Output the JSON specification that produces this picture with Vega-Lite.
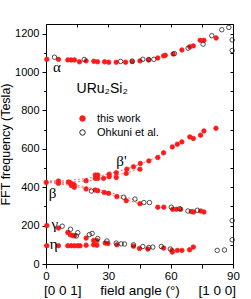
{
  "$schema": "https://vega.github.io/schema/vega-lite/v6.json",
  "width": 187,
  "height": 240,
  "autosize": {"type": "none"},
  "padding": {"left": 46, "top": 24, "right": 18, "bottom": 35},
  "config": {
    "font": "Liberation Sans",
    "view": {"stroke": null},
    "axis": {"grid": false, "domainColor": "#000", "tickColor": "#000", "labelColor": "#000", "titleColor": "#000", "titleFontWeight": "normal", "domainWidth": 1, "tickWidth": 1}
  },
  "datasets": {
    "pts": [
      {"angle": 0.4, "freq": 1066, "src": "this work"},
      {"angle": 6, "freq": 1066, "src": "this work"},
      {"angle": 10.5, "freq": 1063, "src": "this work"},
      {"angle": 12.1, "freq": 1063, "src": "this work"},
      {"angle": 13.7, "freq": 1063, "src": "this work"},
      {"angle": 16.1, "freq": 1053, "src": "this work"},
      {"angle": 19.3, "freq": 1058, "src": "this work"},
      {"angle": 23, "freq": 1056, "src": "this work"},
      {"angle": 24.8, "freq": 1053, "src": "this work"},
      {"angle": 28.2, "freq": 1053, "src": "this work"},
      {"angle": 30.2, "freq": 1051, "src": "this work"},
      {"angle": 33.8, "freq": 1051, "src": "this work"},
      {"angle": 38.3, "freq": 1051, "src": "this work"},
      {"angle": 41.5, "freq": 1054, "src": "this work"},
      {"angle": 45.2, "freq": 1058, "src": "this work"},
      {"angle": 49.4, "freq": 1063, "src": "this work"},
      {"angle": 53.8, "freq": 1073, "src": "this work"},
      {"angle": 56.6, "freq": 1084, "src": "this work"},
      {"angle": 57.4, "freq": 1087, "src": "this work"},
      {"angle": 61.2, "freq": 1094, "src": "this work"},
      {"angle": 65.4, "freq": 1115, "src": "this work"},
      {"angle": 69.2, "freq": 1131, "src": "this work"},
      {"angle": 70.9, "freq": 1136, "src": "this work"},
      {"angle": 74.2, "freq": 1165, "src": "this work"},
      {"angle": 76, "freq": 1165, "src": "this work"},
      {"angle": 81.9, "freq": 1177, "src": "this work"},

      {"angle": 0.1, "freq": 425, "src": "this work"},
      {"angle": 6, "freq": 432, "src": "this work"},
      {"angle": 6, "freq": 420, "src": "this work"},
      {"angle": 10.8, "freq": 427, "src": "this work"},
      {"angle": 11.7, "freq": 421, "src": "this work"},
      {"angle": 12.6, "freq": 417, "src": "this work"},
      {"angle": 13.6, "freq": 412, "src": "this work"},
      {"angle": 12.2, "freq": 409, "src": "this work"},
      {"angle": 19.3, "freq": 434, "src": "this work"},
      {"angle": 23.7, "freq": 463, "src": "this work"},
      {"angle": 24.9, "freq": 463, "src": "this work"},
      {"angle": 23.7, "freq": 446, "src": "this work"},
      {"angle": 24.9, "freq": 446, "src": "this work"},
      {"angle": 27.7, "freq": 446, "src": "this work"},
      {"angle": 30.4, "freq": 468, "src": "this work"},
      {"angle": 30.4, "freq": 455, "src": "this work"},
      {"angle": 33.8, "freq": 475, "src": "this work"},
      {"angle": 33.8, "freq": 451, "src": "this work"},
      {"angle": 38.6, "freq": 472, "src": "this work"},
      {"angle": 38.9, "freq": 494, "src": "this work"},
      {"angle": 42.1, "freq": 506, "src": "this work"},
      {"angle": 45.2, "freq": 494, "src": "this work"},
      {"angle": 45.4, "freq": 524, "src": "this work"},
      {"angle": 49.5, "freq": 537, "src": "this work"},
      {"angle": 53.8, "freq": 555, "src": "this work"},
      {"angle": 56.6, "freq": 579, "src": "this work"},
      {"angle": 60.8, "freq": 610, "src": "this work"},
      {"angle": 63.2, "freq": 624, "src": "this work"},
      {"angle": 65.4, "freq": 636, "src": "this work"},
      {"angle": 69.2, "freq": 662, "src": "this work"},
      {"angle": 70.9, "freq": 654, "src": "this work"},
      {"angle": 74.4, "freq": 671, "src": "this work"},
      {"angle": 76, "freq": 693, "src": "this work"},
      {"angle": 81.8, "freq": 707, "src": "this work"},

      {"angle": 13.6, "freq": 400, "src": "this work"},
      {"angle": 19.3, "freq": 391, "src": "this work"},
      {"angle": 23.7, "freq": 385, "src": "this work"},
      {"angle": 24.9, "freq": 382, "src": "this work"},
      {"angle": 28, "freq": 373, "src": "this work"},
      {"angle": 30.1, "freq": 368, "src": "this work"},
      {"angle": 34.1, "freq": 351, "src": "this work"},
      {"angle": 38.6, "freq": 330, "src": "this work"},
      {"angle": 45.2, "freq": 314, "src": "this work"},
      {"angle": 53.8, "freq": 296, "src": "this work"},
      {"angle": 56.7, "freq": 296, "src": "this work"},
      {"angle": 61, "freq": 285, "src": "this work"},
      {"angle": 62.7, "freq": 285, "src": "this work"},
      {"angle": 64.8, "freq": 285, "src": "this work"},
      {"angle": 69.9, "freq": 273, "src": "this work"},
      {"angle": 71, "freq": 271, "src": "this work"},
      {"angle": 74.4, "freq": 276, "src": "this work"},
      {"angle": 76, "freq": 271, "src": "this work"},

      {"angle": 0.4, "freq": 200, "src": "this work"},
      {"angle": 6, "freq": 187, "src": "this work"},
      {"angle": 10.5, "freq": 164, "src": "this work"},
      {"angle": 11.7, "freq": 152, "src": "this work"},
      {"angle": 12.9, "freq": 148, "src": "this work"},
      {"angle": 13.7, "freq": 147, "src": "this work"},
      {"angle": 19.3, "freq": 135, "src": "this work"},
      {"angle": 22.9, "freq": 122, "src": "this work"},
      {"angle": 24.5, "freq": 122, "src": "this work"},
      {"angle": 28.5, "freq": 109, "src": "this work"},
      {"angle": 29.8, "freq": 107, "src": "this work"},
      {"angle": 34.1, "freq": 100, "src": "this work"},
      {"angle": 42.1, "freq": 93, "src": "this work"},
      {"angle": 45, "freq": 81, "src": "this work"},
      {"angle": 49, "freq": 78, "src": "this work"},
      {"angle": 56.6, "freq": 83, "src": "this work"},
      {"angle": 60.6, "freq": 71, "src": "this work"},
      {"angle": 60.8, "freq": 62, "src": "this work"},
      {"angle": 63.2, "freq": 71, "src": "this work"},
      {"angle": 65.4, "freq": 71, "src": "this work"},
      {"angle": 69.1, "freq": 74, "src": "this work"},
      {"angle": 70.9, "freq": 88, "src": "this work"},

      {"angle": 0.4, "freq": 95, "src": "this work"},
      {"angle": 6, "freq": 95, "src": "this work"},
      {"angle": 10.5, "freq": 95, "src": "this work"},
      {"angle": 12.1, "freq": 95, "src": "this work"},
      {"angle": 13.7, "freq": 95, "src": "this work"},
      {"angle": 15.3, "freq": 95, "src": "this work"},
      {"angle": 16.4, "freq": 95, "src": "this work"},
      {"angle": 19.3, "freq": 98, "src": "this work"},
      {"angle": 22.9, "freq": 100, "src": "this work"},
      {"angle": 24.5, "freq": 98, "src": "this work"},

      {"angle": 4.1, "freq": 1077, "src": "Ohkuni et al."},
      {"angle": 18.4, "freq": 1065, "src": "Ohkuni et al."},
      {"angle": 35.9, "freq": 1055, "src": "Ohkuni et al."},
      {"angle": 41.5, "freq": 1057, "src": "Ohkuni et al."},
      {"angle": 46.6, "freq": 1066, "src": "Ohkuni et al."},
      {"angle": 49.4, "freq": 1065, "src": "Ohkuni et al."},
      {"angle": 51.9, "freq": 1066, "src": "Ohkuni et al."},
      {"angle": 61.8, "freq": 1096, "src": "Ohkuni et al."},
      {"angle": 68.4, "freq": 1124, "src": "Ohkuni et al."},
      {"angle": 75.6, "freq": 1145, "src": "Ohkuni et al."},
      {"angle": 79.8, "freq": 1189, "src": "Ohkuni et al."},
      {"angle": 84.6, "freq": 1220, "src": "Ohkuni et al."},
      {"angle": 88, "freq": 1232, "src": "Ohkuni et al."},
      {"angle": 89.6, "freq": 1167, "src": "Ohkuni et al."},
      {"angle": 89.6, "freq": 1112, "src": "Ohkuni et al."},

      {"angle": 21.8, "freq": 380, "src": "Ohkuni et al."},
      {"angle": 37.4, "freq": 348, "src": "Ohkuni et al."},
      {"angle": 42.8, "freq": 338, "src": "Ohkuni et al."},
      {"angle": 47.1, "freq": 320, "src": "Ohkuni et al."},
      {"angle": 49.8, "freq": 320, "src": "Ohkuni et al."},
      {"angle": 60.3, "freq": 296, "src": "Ohkuni et al."},
      {"angle": 64.3, "freq": 288, "src": "Ohkuni et al."},
      {"angle": 68.3, "freq": 276, "src": "Ohkuni et al."},
      {"angle": 72.8, "freq": 280, "src": "Ohkuni et al."},
      {"angle": 89.6, "freq": 226, "src": "Ohkuni et al."},
      {"angle": 89.6, "freq": 126, "src": "Ohkuni et al."},

      {"angle": 7.8, "freq": 197, "src": "Ohkuni et al."},
      {"angle": 11.8, "freq": 181, "src": "Ohkuni et al."},
      {"angle": 15.3, "freq": 163, "src": "Ohkuni et al."},
      {"angle": 14.6, "freq": 146, "src": "Ohkuni et al."},
      {"angle": 20.9, "freq": 153, "src": "Ohkuni et al."},
      {"angle": 22.2, "freq": 159, "src": "Ohkuni et al."},
      {"angle": 24.9, "freq": 133, "src": "Ohkuni et al."},
      {"angle": 29.3, "freq": 120, "src": "Ohkuni et al."},
      {"angle": 33.8, "freq": 109, "src": "Ohkuni et al."},
      {"angle": 36.2, "freq": 105, "src": "Ohkuni et al."},
      {"angle": 37.8, "freq": 104, "src": "Ohkuni et al."},
      {"angle": 42.1, "freq": 100, "src": "Ohkuni et al."},
      {"angle": 46.6, "freq": 91, "src": "Ohkuni et al."},
      {"angle": 49.5, "freq": 86, "src": "Ohkuni et al."},
      {"angle": 51.4, "freq": 88, "src": "Ohkuni et al."},
      {"angle": 55.5, "freq": 91, "src": "Ohkuni et al."},
      {"angle": 59.8, "freq": 78, "src": "Ohkuni et al."},
      {"angle": 82.4, "freq": 71, "src": "Ohkuni et al."},
      {"angle": 85.9, "freq": 73, "src": "Ohkuni et al."}
    ],
    "fits": [
      {"curve": "a", "angle": 0, "freq": 433},
      {"curve": "a", "angle": 10, "freq": 433},
      {"curve": "a", "angle": 20, "freq": 447},
      {"curve": "a", "angle": 30, "freq": 468},
      {"curve": "a", "angle": 40, "freq": 499},
      {"curve": "a", "angle": 50, "freq": 540},
      {"curve": "a", "angle": 57, "freq": 580},
      {"curve": "b", "angle": 0, "freq": 429},
      {"curve": "b", "angle": 10, "freq": 425},
      {"curve": "b", "angle": 20, "freq": 433},
      {"curve": "b", "angle": 30, "freq": 452},
      {"curve": "b", "angle": 40, "freq": 478},
      {"curve": "b", "angle": 45, "freq": 494},
      {"curve": "c", "angle": 0, "freq": 431},
      {"curve": "c", "angle": 10, "freq": 419},
      {"curve": "c", "angle": 20, "freq": 400},
      {"curve": "c", "angle": 30, "freq": 375},
      {"curve": "c", "angle": 40, "freq": 343},
      {"curve": "c", "angle": 45, "freq": 325},
      {"curve": "d", "angle": 0, "freq": 427},
      {"curve": "d", "angle": 10, "freq": 412},
      {"curve": "d", "angle": 20, "freq": 391},
      {"curve": "d", "angle": 30, "freq": 364},
      {"curve": "d", "angle": 40, "freq": 330},
      {"curve": "d", "angle": 45, "freq": 314}
    ],
    "labels": [
      {"angle": 5.2, "freq": 1025, "text": "α"},
      {"angle": 3.1, "freq": 370, "text": "β"},
      {"angle": 36.3, "freq": 537, "text": "β'"},
      {"angle": 4.2, "freq": 209, "text": "γ"},
      {"angle": 3.75, "freq": 104, "text": "η"}
    ],
    "title": [
      {"angle": 14.7, "freq": 914, "text": "URu₂Si₂"}
    ]
  },
  "resolve": {"axis": {"x": "independent", "y": "independent"}},
  "layer": [
    {
      "data": {"name": "fits"},
      "mark": {"type": "line", "color": "#ff6a6a", "strokeWidth": 1, "strokeDash": [2, 2]},
      "encoding": {
        "x": {"field": "angle", "type": "quantitative", "scale": {"domain": [0, 90], "nice": false, "zero": false},
          "axis": {"orient": "bottom", "values": [0, 15, 30, 45, 60, 75, 90], "labelExpr": "datum.value % 30 == 0 ? datum.label : ''", "tickSize": 4, "labelPadding": 2, "labelFontSize": 11.5, "labelFlush": false,
            "title": "[0 0 1]\u00a0\u00a0\u00a0\u00a0\u00a0field angle (°)\u00a0\u00a0\u00a0\u00a0\u00a0[1 0 0]", "titleFontSize": 13.5, "titlePadding": 2}},
        "y": {"field": "freq", "type": "quantitative", "scale": {"domain": [0, 1250], "nice": false},
          "axis": {"orient": "left", "values": [0, 100, 200, 300, 400, 500, 600, 700, 800, 900, 1000, 1100, 1200], "labelExpr": "datum.value % 200 == 0 ? datum.label : ''", "format": "d",
            "tickSize": {"condition": {"test": "datum.value % 200 == 0", "value": 4}, "value": 2.5}, "labelPadding": 3, "labelFontSize": 11, "labelFlush": false,
            "title": "FFT frequency (Tesla)", "titleFontSize": 12.5, "titlePadding": 2}},
        "detail": {"field": "curve"}
      }
    },
    {
      "data": {"name": "pts"},
      "mark": {"type": "point", "shape": "circle", "size": 20, "strokeWidth": 0.8, "opacity": 1},
      "encoding": {
        "x": {"field": "angle", "type": "quantitative", "scale": {"domain": [0, 90], "nice": false, "zero": false},
          "axis": {"orient": "top", "values": [0, 15, 30, 45, 60, 75, 90], "labels": false, "tickSize": -3, "title": null}},
        "y": {"field": "freq", "type": "quantitative", "scale": {"domain": [0, 1250], "nice": false},
          "axis": {"orient": "right", "values": [0, 100, 200, 300, 400, 500, 600, 700, 800, 900, 1000, 1100, 1200], "labels": false, "tickSize": -3, "title": null}},
        "fill": {"field": "src", "type": "nominal", "scale": {"domain": ["this work", "Ohkuni et al."], "range": ["#ff1a1a", "transparent"]},
          "legend": {"orient": "none", "legendX": 31, "legendY": 89, "title": null, "labelFontSize": 11, "symbolSize": 30, "symbolStrokeWidth": 1, "rowPadding": 2, "labelOffset": 9}},
        "stroke": {"field": "src", "type": "nominal", "scale": {"domain": ["this work", "Ohkuni et al."], "range": ["#ff1a1a", "#222222"]}}
      }
    },
    {
      "data": {"name": "labels"},
      "mark": {"type": "text", "font": "Liberation Serif", "fontSize": 15, "align": "center", "baseline": "middle", "color": "#000"},
      "encoding": {
        "x": {"field": "angle", "type": "quantitative", "scale": {"domain": [0, 90], "nice": false, "zero": false}, "axis": null},
        "y": {"field": "freq", "type": "quantitative", "scale": {"domain": [0, 1250], "nice": false}, "axis": null},
        "text": {"field": "text"}
      }
    },
    {
      "data": {"name": "title"},
      "mark": {"type": "text", "font": "Liberation Sans", "fontSize": 14, "align": "left", "baseline": "middle", "color": "#000"},
      "encoding": {
        "x": {"field": "angle", "type": "quantitative", "scale": {"domain": [0, 90], "nice": false, "zero": false}, "axis": null},
        "y": {"field": "freq", "type": "quantitative", "scale": {"domain": [0, 1250], "nice": false}, "axis": null},
        "text": {"field": "text"}
      }
    }
  ]
}
